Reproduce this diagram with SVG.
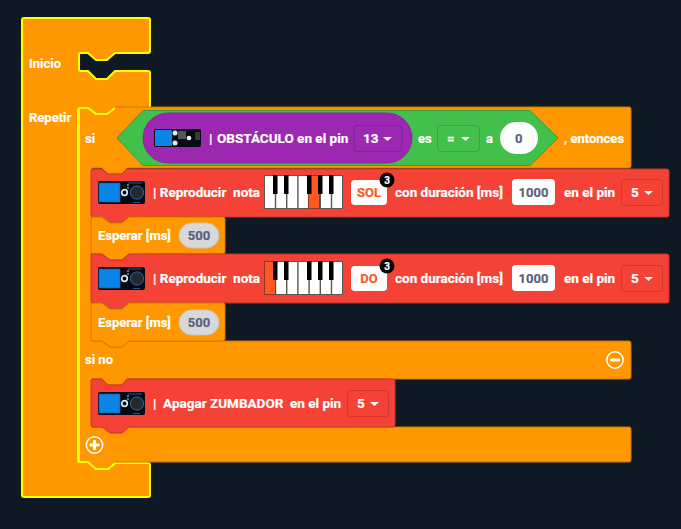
<svg xmlns="http://www.w3.org/2000/svg" xmlns:xlink="http://www.w3.org/1999/xlink" width="681" height="529" viewBox="0 0 681 529">
<style>
text{font-family:Roboto,"Liberation Sans",sans-serif;font-weight:700;font-size:13px;fill:#fff;stroke:#fff;stroke-width:.2;white-space:pre}
.b{font-size:13.500px}
.o{fill:#ff9800;stroke:#cc7a00;stroke-width:1}
.r{fill:#f44336;stroke:#c3352b;stroke-width:1}
.dr{fill:#f44336;stroke:#d5362c;stroke-width:1}
.val{fill:#5a6080;stroke:#5a6080;text-anchor:middle}
.note{fill:#ff5722;stroke:#ff5722;text-anchor:middle}
.arr{fill:#fff}
.on{fill:#ff5722;stroke:#8a3a20;stroke-width:1}
</style>
<defs>
<g id="buzz">
<rect x="0" y="0" width="47" height="23" rx="2" fill="#050a14"/>
<rect x="1" y="2" width="21" height="19" fill="#0a84e6" stroke="#1c5a96" stroke-width=".7"/>
<circle cx="26.500" cy="11.500" r="2.800" fill="none" stroke="#dfe8ee" stroke-width="1.700"/>
<circle cx="39" cy="11.500" r="6.600" fill="#25282c" stroke="#1f6fb0" stroke-width="1"/>
<circle cx="30" cy="4" r=".8" fill="#cfe"/><circle cx="30" cy="7" r=".8" fill="#cfe"/>
<path d="M30 2h14M35 21.500h7" stroke="#1f6fb0" stroke-width=".8"/>
</g>
<g id="piano">
<rect x="0" y="0" width="79" height="34" fill="#5e5452"/>
<rect x="1" y="1" width="9.800" height="32" fill="#fff"/><rect x="12.200" y="1" width="9.800" height="32" fill="#fff"/><rect x="23.400" y="1" width="9.800" height="32" fill="#fff"/><rect x="34.600" y="1" width="9.800" height="32" fill="#fff"/><rect x="45.800" y="1" width="9.800" height="32" fill="#fff"/><rect x="57" y="1" width="9.800" height="32" fill="#fff"/><rect x="68.200" y="1" width="9.800" height="32" fill="#fff"/>
</g>
<g id="keys">
<rect x="9" y="0" width="4.500" height="19" fill="#000"/><rect x="20" y="0" width="4.500" height="19" fill="#000"/><rect x="43" y="0" width="4.500" height="19" fill="#000"/><rect x="54" y="0" width="4.500" height="19" fill="#000"/><rect x="65" y="0" width="4.500" height="19" fill="#000"/>
</g>
<path id="tri" d="M0 0h9l-4.500 4z"/>
</defs>
<rect width="681" height="529" fill="#0f1923"/>
<g id="connectors"/>

<g id="bloque-inicio">
<path d="M24 18H148Q150 18 150 20V51Q150 53 148 53H115L107 60H96L88 53H81Q79 53 79 55V69Q79 71 81 71H88L96 79H107L115 71H148Q150 71 150 73V106Q150 108 148 108H115L107 114H96L88 108H81Q78 108 78 110V460Q78 462 81 462H88L96 469H108L115 463H148Q150 463 150 465V495Q150 497 148 497H24Q22 497 22 495V20Q22 18 24 18Z" fill="#ff9800" stroke="#ffff00" stroke-width="2"/>
<text x="29" y="68">Inicio</text>
<text x="29" y="121.500">Repetir</text>
</g>

<g id="bloque-si">
<path class="o" d="M79 108H88L96 114H107L115 107H629Q631 107 631 109V166Q631 168 629 168H127L122 174H108L102 168H92V341H102L110 347H122L127 341H629Q631 341 631 343V377Q631 379 629 379H127L122 385H108L102 379H92V427H629Q631 427 631 429V460Q631 462 629 462H115L108 469H96L88 462H79Z"/>
<path d="M79 108H88L96 114H107L115 108M79 108V462H88L96 469H108L115 463" fill="none" stroke="#ffff00" stroke-width="2"/>
<text x="85" y="143">si</text>
<text x="564" y="143">, entonces</text>
<text x="85" y="364">si no</text>
<g id="menos"><circle cx="615" cy="360" r="8.200" fill="none" stroke="#fff" stroke-width="1.600"/><rect x="610" y="358.500" width="10" height="3" rx="1" fill="#fff"/></g>
<g id="mas"><circle cx="94.500" cy="445" r="8.200" fill="none" stroke="#fff" stroke-width="1.600"/><rect x="89.500" y="443.500" width="10" height="3" rx="1" fill="#fff"/><rect x="93" y="440" width="3" height="10" rx="1" fill="#fff"/></g>
</g>

<g id="condicion">
<path d="M117 138L143 110.500H530L558 138L530 165.500H143Z" fill="#43c04b" stroke="#3a9c40" stroke-width="1"/>
<rect x="143" y="113" width="269" height="50" rx="25" fill="#9c27b0" stroke="#8a2a9c" stroke-width="1"/>
<g id="sensor">
<rect x="154" y="129" width="47" height="18" rx="2" fill="#050a14"/>
<rect x="155" y="130" width="17" height="16" fill="#0a84e6"/>
<circle cx="175" cy="133" r="2.500" fill="#d8ecfa"/><circle cx="175" cy="143" r="2.500" fill="#d8ecfa"/>
<rect x="178" y="131" width="8" height="8" fill="#555"/><circle cx="189" cy="138" r="2.300" fill="#eee"/><rect x="195" y="132" width="5" height="8" fill="#3a3a3a"/>
</g>
<text x="209" y="143" class="b">|</text>
<text x="217" y="143" class="b">OBSTÁCULO en el pin</text>
<rect x="354" y="125.500" width="48" height="26" rx="3" fill="#9c27b0" stroke="#84209a" stroke-width="1"/>
<text x="363" y="143" class="b">13</text><use xlink:href="#tri" href="#tri" x="383" y="137" class="arr"/>
<text x="418" y="143">es</text>
<rect x="437.500" y="125.500" width="42" height="26" rx="3" fill="#43c04b" stroke="#3aa342" stroke-width="1"/>
<text x="447" y="143">=</text><use xlink:href="#tri" href="#tri" x="461" y="137" class="arr"/>
<text x="486" y="143">a</text>
<rect x="500" y="122" width="38" height="32" rx="16" fill="#fff"/>
<text x="515" y="143" class="val" style="text-anchor:start">0</text>
</g>

<g id="reproducir-sol">
<path class="r" d="M93 169H102L108 174H122L127 169H667Q669 169 669 171V215Q669 217 667 217H129L122 223H110L102 217H93Q91 217 91 215V171Q91 169 93 169Z"/>
<use xlink:href="#buzz" href="#buzz" x="98" y="181"/>
<text x="153" y="197" class="b">| Reproducir  nota</text>
<use xlink:href="#piano" href="#piano" x="264" y="175"/>
<rect x="308.500" y="175.500" width="11" height="33" class="on"/>
<use xlink:href="#keys" href="#keys" x="264" y="175"/>
<rect x="351" y="180" width="36" height="25" rx="4" fill="#fff"/>
<text x="369" y="197" class="note">SOL</text>
<circle cx="387" cy="180" r="7.500" fill="#000"/>
<text x="387" y="184" style="font-size:10px;text-anchor:middle">3</text>
<text x="395" y="197" class="b">con duración [ms]</text>
<rect x="512" y="179" width="43" height="26" rx="4" fill="#fff"/>
<text x="533.500" y="197" class="val">1000</text>
<text x="564" y="197" class="b">en el pin</text>
<rect x="621.500" y="179.500" width="41" height="26" rx="3" class="dr"/>
<text x="631" y="197" class="b">5</text><use xlink:href="#tri" href="#tri" x="644" y="191" class="arr"/>
</g>

<g id="esperar-1">
<path class="o" d="M93 217H102L110 223H122L129 217H223Q225 217 225 219V252Q225 254 223 254H129L122 260H110L102 254H93Q91 254 91 252V219Q91 217 93 217Z"/>
<text x="98" y="240">Esperar [ms]</text>
<rect x="179" y="223" width="40" height="25" rx="12.500" fill="#d8d8d8" stroke="#c4c4c4" stroke-width="1"/>
<text x="199" y="240" class="val">500</text>
</g>

<g id="reproducir-do">
<path class="r" d="M91 254H102L110 260H122L129 254H667Q669 254 669 256V301Q669 303 667 303H129L122 309H110L102 303H93Q91 303 91 301Z"/>
<use xlink:href="#buzz" href="#buzz" x="98" y="267"/>
<text x="153" y="283" class="b">| Reproducir  nota</text>
<use xlink:href="#piano" href="#piano" x="264" y="261"/>
<rect x="264.500" y="261.500" width="11" height="33" class="on"/>
<use xlink:href="#keys" href="#keys" x="264" y="261"/>
<rect x="351" y="266" width="36" height="25" rx="4" fill="#fff"/>
<text x="369" y="283" class="note">DO</text>
<circle cx="387" cy="266" r="7.500" fill="#000"/>
<text x="387" y="270" style="font-size:10px;text-anchor:middle">3</text>
<text x="395" y="283" class="b">con duración [ms]</text>
<rect x="512" y="265" width="43" height="26" rx="4" fill="#fff"/>
<text x="533.500" y="283" class="val">1000</text>
<text x="564" y="283" class="b">en el pin</text>
<rect x="621.500" y="265.500" width="41" height="26" rx="3" class="dr"/>
<text x="631" y="283" class="b">5</text><use xlink:href="#tri" href="#tri" x="644" y="277" class="arr"/>
</g>

<g id="esperar-2">
<path class="o" d="M93 303H102L110 309H122L129 303H223Q225 303 225 305V339Q225 341 223 341H129L122 347H110L102 341H93Q91 341 91 339V305Q91 303 93 303Z"/>
<text x="98" y="327">Esperar [ms]</text>
<rect x="179" y="310" width="40" height="25" rx="12.500" fill="#d8d8d8" stroke="#c4c4c4" stroke-width="1"/>
<text x="199" y="327" class="val">500</text>
</g>

<g id="apagar">
<path class="r" d="M93 379H102L108 385H122L127 379H393Q395 379 395 381V425Q395 427 393 427H129L122 433H110L102 427H93Q91 427 91 425V381Q91 379 93 379Z"/>
<use xlink:href="#buzz" href="#buzz" x="98" y="392"/>
<text x="153" y="408" class="b">|  Apagar ZUMBADOR</text>
<text x="290" y="408" class="b">en el pin</text>
<rect x="347.500" y="390.500" width="41" height="26" rx="3" class="dr"/>
<text x="357" y="408" class="b">5</text><use xlink:href="#tri" href="#tri" x="370" y="402" class="arr"/>
</g>
</svg>
